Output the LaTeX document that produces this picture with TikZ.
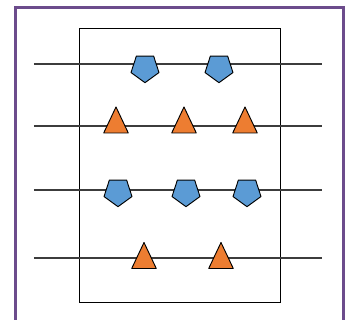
\documentclass[tikz,border=0pt]{standalone}
\usepackage{tikz}
\definecolor{frameviolet}{RGB}{108,76,140}
\definecolor{penblue}{RGB}{91,155,213}
\definecolor{triorange}{RGB}{237,125,49}
\definecolor{wiregray}{RGB}{60,60,60}
\tikzset{
	wire/.style={draw=wiregray, line width=1pt},
	penta/.pic={\draw[fill=penblue, draw=black, line width=0.8pt, line join=round]
		(270:14.7) -- (342:14.7) -- (54:14.7) -- (126:14.7) -- (198:14.7) -- cycle;},
	trio/.pic={\draw[fill=triorange, draw=black, line width=0.8pt, line join=round]
		(0,13) -- (12.3,-13) -- (-12.3,-13) -- cycle;}
}

\begin{document}
\begin{tikzpicture}[x=0.03cm, y=0.03cm]
					\clip (0,0) rectangle (350,320);
					\draw[frameviolet, line width=2.5pt] (15.5,-10) rectangle (343.5,312.8);
					\draw[black, line width=0.7pt] (79,18) rectangle (280,292);
					
					\coordinate (L1) at (34,256);
					\coordinate (R1) at (322,256);
					\coordinate (L2) at (34,194);
					\coordinate (R2) at (322,194);
					\coordinate (L3) at (34,130);
					\coordinate (R3) at (322,130);
					\coordinate (L4) at (34,62);
					\coordinate (R4) at (322,62);
					
					\draw[wire] (L1) -- (R1);
					\draw[wire] (L2) -- (R2);
					\draw[wire] (L3) -- (R3);
					\draw[wire] (L4) -- (R4);
					
					\pic at (145,252) {penta};
					\pic at (219,252) {penta};
					
					\pic at (116,200) {trio};
					\pic at (184,200) {trio};
					\pic at (245,200) {trio};
					
					\pic at (118,128) {penta};
					\pic at (186,128) {penta};
					\pic at (247,128) {penta};
					
					\pic at (144,64.5) {trio};
					\pic at (221,64.5) {trio};
				\end{tikzpicture}
\end{document}
